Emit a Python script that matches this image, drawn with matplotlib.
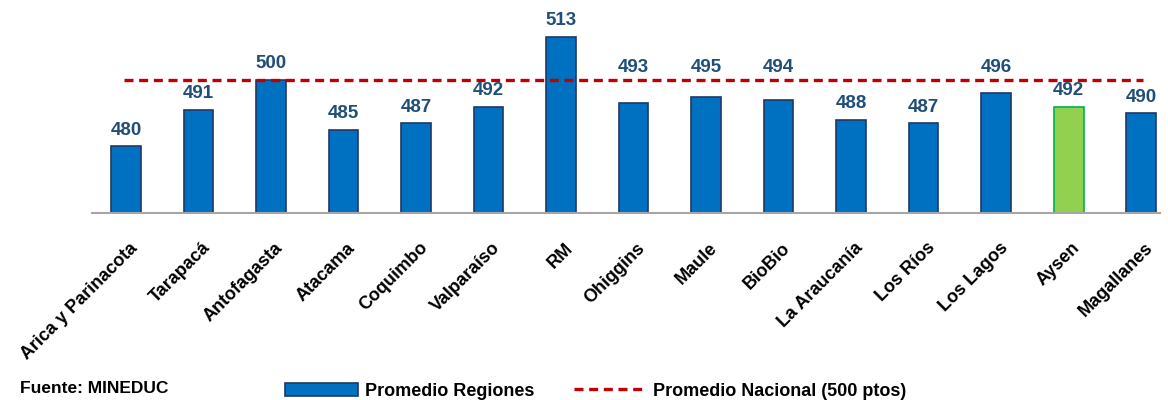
import numpy as np
import matplotlib.pyplot as plt
import matplotlib.transforms as mtransforms
from matplotlib.lines import Line2D
from matplotlib.patches import Patch

plt.rcParams['font.family'] = ['Liberation Sans', 'DejaVu Sans']
plt.rcParams['font.weight'] = 'bold'

# Data
regiones = ['Arica y Parinacota', 'Tarapacá', 'Antofagasta', 'Atacama', 'Coquimbo',
            'Valparaíso', 'RM', 'Ohiggins', 'Maule', 'BioBio', 'La Araucanía',
            'Los Ríos', 'Los Lagos', 'Aysen', 'Magallanes']
puntajes = [480, 491, 500, 485, 487, 492, 513, 493, 495, 494, 488, 487, 496, 492, 490]
nacional = 500
destacada = 'Aysen'

azul = '#0070C0'
borde_azul = '#1F3864'
verde = '#92D050'
borde_verde = '#00B050'
rojo = '#C00000'
color_label = '#1F4E79'

fig = plt.figure(figsize=(11.68, 4.0), dpi=100)
ax = fig.add_axes([92 / 1168, 187 / 400, (1160 - 92) / 1168, 213 / 400])

x = np.arange(len(regiones))
colores = [verde if r == destacada else azul for r in regiones]
bordes = [borde_verde if r == destacada else borde_azul for r in regiones]
ax.bar(x, np.array(puntajes) - 460, bottom=460, width=0.41,
       color=colores, edgecolor=bordes, linewidth=1.2, zorder=2)

# national average line
ax.hlines(nacional, x[0] - 0.03, x[-1] + 0.03, colors=rojo, linestyles=(0, (2.7, 1.7)),
          linewidth=2.4, zorder=3)

# value labels (moved above the dashed line when they would touch it)
for i, v in enumerate(puntajes):
    if nacional - 8 < v < nacional:
        ax.annotate(str(v), (i, nacional), xytext=(0, 3), textcoords='offset points',
                    ha='center', va='bottom', fontsize=13.5, fontweight='bold',
                    color=color_label)
    else:
        ax.annotate(str(v), (i, v), xytext=(0, 5.5), textcoords='offset points',
                    ha='center', va='bottom', fontsize=13.5, fontweight='bold',
                    color=color_label)

ax.set_ylim(460, 524)
ax.set_xlim(-0.47, len(regiones) - 1 + 0.26)
ax.set_yticks([])
ax.set_xticks(x)
ax.set_xticklabels(regiones, rotation=45, ha='right', va='top', rotation_mode='anchor',
                   fontsize=13, fontweight='bold')
ax.tick_params(axis='x', length=0, pad=19)
offset = mtransforms.ScaledTranslation(3 / 100, 0, fig.dpi_scale_trans)
for lab in ax.get_xticklabels():
    lab.set_transform(lab.get_transform() + offset)

for s in ['top', 'right', 'left']:
    ax.spines[s].set_visible(False)
ax.spines['bottom'].set_color('#A6A6A6')
ax.spines['bottom'].set_linewidth(1.5)

fig.text(20 / 1168, 7 / 400, 'Fuente: MINEDUC', fontsize=12.5, fontweight='bold',
         ha='left', va='baseline')

handles = [Patch(facecolor=azul, edgecolor=borde_azul, linewidth=1.2),
           Line2D([0], [0], color=rojo, linestyle=(0, (2.7, 1.7)), linewidth=2.4)]
fig.legend(handles, ['Promedio Regiones', 'Promedio Nacional (500 ptos)'],
           loc='center', bbox_to_anchor=(596 / 1168, 9 / 400), ncol=2, frameon=False,
           prop={'size': 13, 'weight': 'bold'}, handlelength=4.0, handleheight=0.72,
           handletextpad=0.4, columnspacing=2.2, borderpad=0)

fig.savefig('out.png', dpi=100)
